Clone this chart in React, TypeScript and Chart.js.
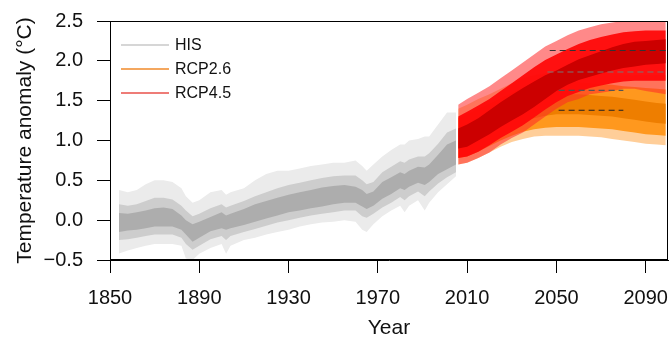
import React, { useEffect, useRef } from "react";
import { Chart, registerables } from "chart.js";

Chart.register(...registerables);

// ---------- data ----------
const hisYears = [1854, 1858, 1862, 1866, 1870, 1874, 1878, 1882, 1884, 1887, 1890, 1895, 1900, 1902, 1904, 1910, 1915, 1920, 1925, 1930, 1935, 1940, 1945, 1950, 1955, 1960, 1963, 1965, 1968, 1972, 1976, 1980, 1982, 1984, 1988, 1991, 1993, 1997, 2001, 2005];
const hisOuterLo = [-0.42, -0.38, -0.35, -0.32, -0.30, -0.30, -0.30, -0.32, -0.48, -0.50, -0.42, -0.35, -0.30, -0.42, -0.32, -0.25, -0.22, -0.18, -0.15, -0.12, -0.08, -0.05, -0.03, -0.02, 0.0, -0.02, -0.12, -0.15, -0.05, 0.05, 0.12, 0.18, 0.10, 0.18, 0.25, 0.12, 0.22, 0.35, 0.45, 0.55];
const hisOuterHi = [0.38, 0.35, 0.38, 0.45, 0.50, 0.50, 0.48, 0.40, 0.30, 0.22, 0.25, 0.35, 0.38, 0.32, 0.35, 0.40, 0.50, 0.58, 0.62, 0.62, 0.65, 0.68, 0.70, 0.72, 0.72, 0.75, 0.68, 0.62, 0.70, 0.80, 0.88, 0.95, 0.95, 1.00, 1.02, 1.05, 1.05, 1.20, 1.35, 1.35];
const hisMidLo = [-0.25, -0.24, -0.22, -0.20, -0.18, -0.18, -0.18, -0.22, -0.30, -0.37, -0.32, -0.24, -0.20, -0.25, -0.20, -0.15, -0.11, -0.07, -0.03, 0.0, 0.03, 0.06, 0.08, 0.10, 0.12, 0.12, 0.05, 0.03, 0.08, 0.16, 0.22, 0.29, 0.25, 0.30, 0.36, 0.30, 0.36, 0.46, 0.54, 0.60];
const hisMidHi = [0.20, 0.18, 0.20, 0.24, 0.28, 0.28, 0.26, 0.18, 0.12, 0.05, 0.08, 0.15, 0.20, 0.16, 0.18, 0.24, 0.30, 0.35, 0.40, 0.44, 0.47, 0.50, 0.53, 0.55, 0.56, 0.56, 0.50, 0.45, 0.48, 0.60, 0.67, 0.74, 0.72, 0.76, 0.80, 0.80, 0.84, 0.96, 1.10, 1.15];
const hisCoreLo = [-0.15, -0.13, -0.12, -0.10, -0.08, -0.08, -0.08, -0.12, -0.18, -0.27, -0.22, -0.14, -0.10, -0.12, -0.10, -0.06, -0.02, 0.02, 0.06, 0.10, 0.12, 0.15, 0.17, 0.20, 0.22, 0.22, 0.17, 0.14, 0.18, 0.27, 0.33, 0.40, 0.38, 0.42, 0.47, 0.44, 0.48, 0.58, 0.64, 0.70];
const hisCoreHi = [0.09, 0.08, 0.10, 0.12, 0.15, 0.16, 0.14, 0.06, 0.0, -0.05, -0.02, 0.04, 0.10, 0.06, 0.08, 0.14, 0.20, 0.24, 0.28, 0.32, 0.35, 0.38, 0.41, 0.43, 0.44, 0.42, 0.38, 0.33, 0.36, 0.48, 0.54, 0.60, 0.58, 0.62, 0.67, 0.66, 0.70, 0.82, 0.95, 1.00];

const rcpYears = [2006, 2010, 2015, 2020, 2025, 2030, 2035, 2040, 2045, 2050, 2055, 2060, 2065, 2070, 2075, 2080, 2085, 2090, 2095, 2099];

const rcp26OuterLo = [0.70, 0.72, 0.78, 0.85, 0.92, 0.98, 1.02, 1.05, 1.06, 1.06, 1.06, 1.06, 1.05, 1.04, 1.02, 1.00, 0.98, 0.96, 0.95, 0.94];
const rcp26OuterHi = [1.40, 1.45, 1.52, 1.58, 1.65, 1.72, 1.78, 1.82, 1.84, 1.85, 1.86, 1.86, 1.86, 1.85, 1.84, 1.83, 1.82, 1.82, 1.82, 1.82];
const rcp26MidLo = [0.78, 0.80, 0.86, 0.93, 1.00, 1.06, 1.11, 1.14, 1.16, 1.17, 1.17, 1.17, 1.16, 1.15, 1.14, 1.12, 1.10, 1.08, 1.07, 1.06];
const rcp26MidHi = [1.28, 1.33, 1.40, 1.46, 1.53, 1.60, 1.66, 1.70, 1.72, 1.73, 1.73, 1.73, 1.72, 1.71, 1.70, 1.68, 1.67, 1.66, 1.65, 1.64];
const rcp26CoreLo = [0.90, 0.92, 0.98, 1.05, 1.12, 1.18, 1.24, 1.28, 1.31, 1.33, 1.33, 1.33, 1.32, 1.31, 1.30, 1.28, 1.26, 1.24, 1.22, 1.21];
const rcp26CoreHi = [1.15, 1.20, 1.26, 1.33, 1.40, 1.46, 1.52, 1.56, 1.58, 1.58, 1.58, 1.58, 1.57, 1.56, 1.55, 1.53, 1.51, 1.49, 1.47, 1.46];

const rcp45OuterLo = [0.70, 0.72, 0.78, 0.85, 0.95, 1.03, 1.10, 1.20, 1.30, 1.40, 1.48, 1.52, 1.58, 1.60, 1.62, 1.65, 1.65, 1.62, 1.60, 1.58];
const rcp45OuterHi = [1.45, 1.52, 1.60, 1.68, 1.78, 1.88, 1.98, 2.08, 2.18, 2.25, 2.32, 2.38, 2.42, 2.46, 2.48, 2.50, 2.50, 2.50, 2.50, 2.50];
const rcp45MidLo = [0.78, 0.80, 0.86, 0.94, 1.03, 1.11, 1.19, 1.29, 1.39, 1.48, 1.56, 1.61, 1.66, 1.69, 1.72, 1.74, 1.75, 1.75, 1.75, 1.75];
const rcp45MidHi = [1.30, 1.36, 1.44, 1.52, 1.62, 1.72, 1.82, 1.92, 2.01, 2.08, 2.15, 2.21, 2.26, 2.30, 2.33, 2.36, 2.37, 2.38, 2.38, 2.38];
const rcp45CoreLo = [0.90, 0.92, 1.00, 1.08, 1.17, 1.25, 1.33, 1.42, 1.52, 1.62, 1.70, 1.76, 1.80, 1.84, 1.88, 1.91, 1.93, 1.95, 1.96, 1.97];
const rcp45CoreHi = [1.15, 1.20, 1.28, 1.38, 1.48, 1.57, 1.66, 1.74, 1.82, 1.88, 1.95, 2.02, 2.07, 2.12, 2.17, 2.21, 2.24, 2.25, 2.26, 2.27];

const refLevels = [2.13, 1.86, 1.63, 1.38];
const refStart = [2047, 2046, 2051, 2051];
const refEnd = [2100, 2100, 2080, 2080];
const refColors = ["#333333", "#777777", "#555555", "#222222"];

const xTicks = [1850, 1890, 1930, 1970, 2010, 2050, 2090];
const yTicks = [-0.5, 0.0, 0.5, 1.0, 1.5, 2.0, 2.5];

const legendLabels = ["HIS", "RCP2.6", "RCP4.5"];
const legendColors = ["#C8C8C8", "#F08A2A", "#E8504A"];

const FONT = "'Liberation Sans', Arial, Helvetica, sans-serif";

function pts(xs: number[], ys: number[]) {
  return xs.map((x, i) => ({ x, y: ys[i] }));
}

function band(xs: number[], lo: number[], hi: number[], color: string, order: number) {
  return [
    {
      data: pts(xs, lo),
      borderColor: "rgba(0,0,0,0)",
      borderWidth: 0,
      pointRadius: 0,
      fill: false,
      order,
    },
    {
      data: pts(xs, hi),
      borderColor: "rgba(0,0,0,0)",
      borderWidth: 0,
      pointRadius: 0,
      fill: "-1",
      backgroundColor: color,
      order,
    },
  ];
}

const boxPlugin = {
  id: "boxAndLegend",
  afterDraw(chart: any) {
    const { ctx, chartArea } = chart;
    ctx.save();
    ctx.strokeStyle = "#000";
    ctx.lineWidth = 1;
    ctx.strokeRect(
      Math.round(chartArea.left) + 0.5,
      Math.round(chartArea.top) + 0.5,
      Math.round(chartArea.right - chartArea.left) - 1,
      Math.round(chartArea.bottom - chartArea.top) - 1
    );
    // legend
    const x0 = chartArea.left + 11;
    const rows = [45, 69, 93];
    ctx.font = "16px " + FONT;
    ctx.textBaseline = "middle";
    ctx.textAlign = "left";
    legendLabels.forEach((lab, i) => {
      ctx.strokeStyle = legendColors[i];
      ctx.lineWidth = 1.3;
      ctx.beginPath();
      ctx.moveTo(x0, rows[i]);
      ctx.lineTo(x0 + 48, rows[i]);
      ctx.stroke();
      ctx.fillStyle = "#111";
      ctx.fillText(lab, x0 + 54, rows[i] + 1);
    });
    ctx.restore();
  },
};

export default function App() {
  const ref = useRef<HTMLCanvasElement | null>(null);

  useEffect(() => {
    if (!ref.current) return;
    const datasets: any[] = [];
    datasets.push(...band(hisYears, hisOuterLo, hisOuterHi, "#EBEBEB", 100));
    datasets.push(...band(hisYears, hisMidLo, hisMidHi, "#CDCDCD", 99));
    datasets.push(...band(hisYears, hisCoreLo, hisCoreHi, "#ADADAD", 98));
    datasets.push(...band(rcpYears, rcp26OuterLo, rcp26OuterHi, "rgba(255,165,70,0.55)", 90));
    datasets.push(...band(rcpYears, rcp26MidLo, rcp26MidHi, "#FF981E", 89));
    datasets.push(...band(rcpYears, rcp26CoreLo, rcp26CoreHi, "#EE7E00", 88));
    datasets.push(...band(rcpYears, rcp45OuterLo, rcp45OuterHi, "rgba(255,40,40,0.55)", 80));
    datasets.push(...band(rcpYears, rcp45MidLo, rcp45MidHi, "rgba(255,10,10,0.95)", 79));
    datasets.push(...band(rcpYears, rcp45CoreLo, rcp45CoreHi, "#CC0000", 78));
    refLevels.forEach((lv, i) => {
      datasets.push({
        data: [
          { x: refStart[i], y: lv },
          { x: refEnd[i], y: lv },
        ],
        borderColor: refColors[i],
        borderWidth: 1.2,
        borderDash: [6, 4],
        pointRadius: 0,
        fill: false,
        order: 10,
      });
    });

    const chart = new Chart(ref.current, {
      type: "line",
      data: { datasets },
      options: {
        animation: false,
        responsive: true,
        maintainAspectRatio: false,
        layout: { padding: { top: 21, right: 3, left: 0, bottom: 0 } },
        plugins: { legend: { display: false }, tooltip: { enabled: false } },
        elements: { line: { tension: 0 } },
        scales: {
          x: {
            type: "linear",
            min: 1850,
            max: 2100,
            afterBuildTicks: (axis: any) => {
              axis.ticks = xTicks.map((v) => ({ value: v }));
            },
            afterFit: (scale: any) => {
              scale.height = 79;
              scale.paddingLeft = 0;
              scale.paddingRight = 0;
            },
            grid: { drawOnChartArea: false, drawTicks: true, tickLength: 13, tickColor: "#000" },
            border: { display: true, color: "#000" },
            ticks: {
              color: "#111",
              font: { family: FONT, size: 20 },
              padding: 13,
              maxRotation: 0,
              autoSkip: false,
              callback: (v: any) => String(v),
            },
            title: {
              display: true,
              text: "Year",
              color: "#111",
              font: { family: FONT, size: 21, lineHeight: 1.0 },
              padding: { top: 0, bottom: 0 },
            },
          },
          y: {
            type: "linear",
            min: -0.5,
            max: 2.5,
            afterBuildTicks: (axis: any) => {
              axis.ticks = yTicks.map((v) => ({ value: v }));
            },
            afterFit: (scale: any) => {
              scale.width = 110;
              scale.paddingTop = 0;
              scale.paddingBottom = 0;
            },
            grid: { drawOnChartArea: false, drawTicks: true, tickLength: 13, tickColor: "#000" },
            border: { display: true, color: "#000" },
            ticks: {
              color: "#111",
              font: { family: FONT, size: 20 },
              padding: 14,
              autoSkip: false,
              callback: (v: any) => {
                const n = Number(v);
                const s = Math.abs(n).toFixed(1);
                return n < 0 ? "\u2212" + s : s;
              },
            },
            title: {
              display: true,
              text: "Temperature anomaly (\u00B0C)",
              color: "#111",
              font: { family: FONT, size: 21 },
              padding: { top: 13, bottom: 0 },
            },
          },
        },
      },
      plugins: [boxPlugin],
    });
    return () => chart.destroy();
  }, []);

  return (
    <div style={{ position: "absolute", left: 0, top: 0, width: 671, height: 339 }}>
      <canvas ref={ref} />
    </div>
  );
}
